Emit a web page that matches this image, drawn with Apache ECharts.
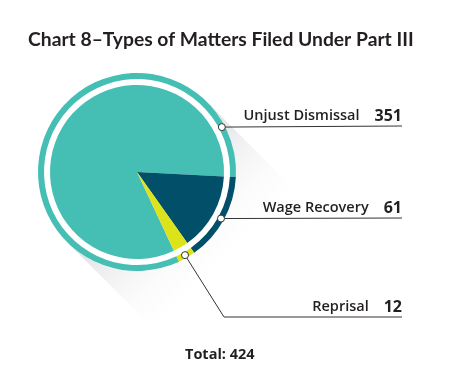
<!DOCTYPE html>
<html>
<head>
<meta charset="utf-8">
<script src="https://cdn.jsdelivr.net/npm/echarts@6/dist/echarts.min.js"></script>
<style>
  html, body { margin: 0; padding: 0; background: #fff; }
  #chart { width: 475px; height: 388px; }
</style>
</head>
<body>
<div id="chart"></div>
<script>
const categories = ['Unjust Dismissal', 'Wage Recovery', 'Reprisal'];
const counts = [351, 61, 12];

const palette = ['#45beb4', '#024f69', '#dde31a'];
const titleFont = 'Lato, "Open Sans", sans-serif';
const font = '"Open Sans", Lato, sans-serif';

// layout (px)
const cx = 137, cy = 172;
const rPie = 87, rRingIn = 93, rRingOut = 99;
const markerR = 96;
const markerAngles = [27.9, -29, -60];   // degrees, counter-clockwise from east
const lineY = [126, 218, 317];
const lineEnd = 402;

const total = counts.reduce((a, b) => a + b, 0);
// navy slice starts just below horizontal, teal fills the rest
const startAngle = -2.9 + counts[0] / total * 360;

const markerPos = markerAngles.map(a => {
    const t = a * Math.PI / 180;
    return [cx + markerR * Math.cos(t), cy - markerR * Math.sin(t)];
});

const pieData = categories.map((name, i) => ({
    name: name,
    value: counts[i],
    itemStyle: { color: palette[i] }
}));

// long shadow to the bottom right
const s = rRingOut * Math.SQRT1_2;
const L = 125;
const shadow = {
    type: 'polygon',
    z: 0,
    silent: true,
    shape: {
        points: [
            [cx + s, cy - s],
            [cx + s + L, cy - s + L],
            [cx - s + L, cy + s + L],
            [cx - s, cy + s]
        ]
    },
    style: {
        fill: new echarts.graphic.LinearGradient(0, 0, 1, 1, [
            { offset: 0.3, color: '#dfe0e3' },
            { offset: 0.62, color: 'rgba(255,255,255,0)' }
        ])
    }
};

const chart = echarts.init(document.getElementById('chart'));
chart.setOption({
    animation: false,
    title: [
        {
            text: 'Chart 8\u2013Types of Matters Filed Under Part III',
            left: 28,
            top: 30,
            padding: 0,
            textStyle: { fontFamily: titleFont, fontSize: 19.3, fontWeight: 'bold', color: '#231f20' }
        },
        {
            text: 'Total: ' + total,
            left: 185,
            top: 347,
            padding: 0,
            textStyle: { fontFamily: font, fontSize: 14.5, fontWeight: 'bold', color: '#231f20' }
        }
    ],
    graphic: [
        shadow,
        {
            type: 'circle',
            z: 1,
            silent: true,
            shape: { cx: cx, cy: cy, r: rRingOut },
            style: { fill: '#fff' }
        }
    ].concat(markerPos.map(p => ({
        type: 'circle',
        z: 20,
        silent: true,
        shape: { cx: p[0], cy: p[1], r: 3.5 },
        style: { fill: '#fff', stroke: '#333', lineWidth: 1 }
    }))),
    series: [
        {
            type: 'pie',
            z: 3,
            center: [cx, cy],
            radius: [0, rPie],
            startAngle: startAngle,
            clockwise: true,
            avoidLabelOverlap: false,
            itemStyle: { borderWidth: 0 },
            emphasis: { disabled: true },
            data: pieData,
            label: {
                show: true,
                position: 'outside',
                formatter: '{n|{b}}{v|{c}}',
                rich: {
                    n: { fontFamily: font, fontSize: 14.5, fontWeight: 600, color: '#231f20' },
                    v: { fontFamily: font, fontSize: 16, fontWeight: 'bold', color: '#231f20', padding: [0, 0, 0, 15] }
                }
            },
            labelLine: {
                show: true,
                lineStyle: { color: '#333', width: 1 }
            },
            labelLayout: function (params) {
                const i = params.dataIndex;
                const m = markerPos[i];
                const pts = i === 2
                    ? [m, [224, lineY[i]], [lineEnd, lineY[i]]]
                    : [m, [lineEnd, lineY[i]]];
                return {
                    x: lineEnd,
                    y: lineY[i] - 2,
                    align: 'right',
                    verticalAlign: 'bottom',
                    labelLinePoints: pts
                };
            }
        },
        {
            type: 'pie',
            z: 3,
            center: [cx, cy],
            radius: [rRingIn, rRingOut],
            startAngle: startAngle,
            clockwise: true,
            silent: true,
            itemStyle: { borderWidth: 0 },
            label: { show: false },
            labelLine: { show: false },
            data: pieData
        }
    ]
});
</script>
</body>
</html>
